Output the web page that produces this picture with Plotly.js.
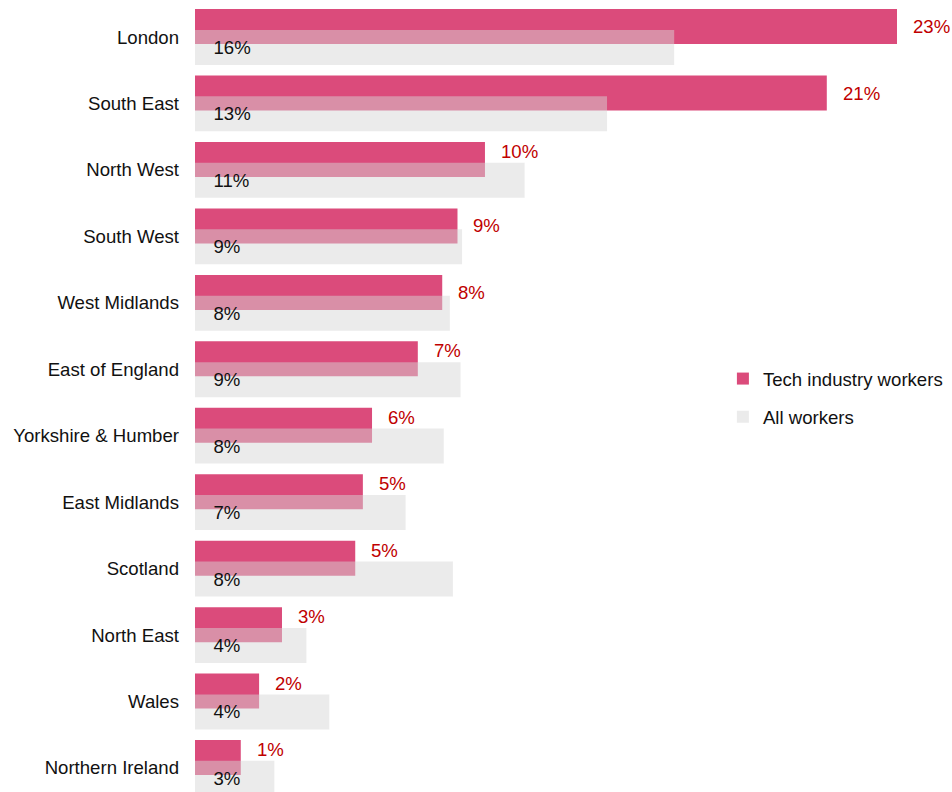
<!DOCTYPE html>
<html>
<head>
<meta charset="utf-8">
<script src="https://cdn.plot.ly/plotly-3.0.1.min.js"></script>
<style>
  html, body { margin: 0; padding: 0; background: #ffffff; }
  #chart { width: 952px; height: 792px; }
</style>
</head>
<body>
<div id="chart"></div>
<script>
// ---- Data ----
var regions = [
  "London", "South East", "North West", "South West", "West Midlands",
  "East of England", "Yorkshire & Humber", "East Midlands", "Scotland",
  "North East", "Wales", "Northern Ireland"
];
var techWorkers = [23.0, 20.7, 9.5, 8.6, 8.1, 7.3, 5.8, 5.5, 5.25, 2.85, 2.1, 1.5];
var allWorkers  = [15.7, 13.5, 10.8, 8.75, 8.35, 8.7, 8.15, 6.9, 8.45, 3.65, 4.4, 2.6];
var techLabels = ["23%", "21%", "10%", "9%", "8%", "7%", "6%", "5%", "5%", "3%", "2%", "1%"];
var allLabels  = ["16%", "13%", "11%", "9%", "8%", "9%", "8%", "7%", "8%", "4%", "4%", "3%"];
var seriesNames = ["Tech industry workers", "All workers"];

var PAD = "\u00a0\u00a0\u00a0";
var FONT = "Liberation Sans, Arial, sans-serif";
var FS = 18.6;
var XMAX = 23.0;
var PLOT_W = 702;           // plot-area width in px (952 - 195 - 55)
var BAR_W = 0.527, TECH_OFF = -0.42, ALL_OFF = -0.107;
var CAT_PX = 792 / (11.362 + 0.557);

var traceTech = {
  type: "bar",
  orientation: "h",
  name: seriesNames[0],
  legendgroup: "g1",
  y: regions,
  x: techWorkers,
  width: BAR_W,
  offset: TECH_OFF,
  marker: { color: "#db4b7b", line: { width: 0 } },
  hoverinfo: "skip"
};

var traceAll = {
  type: "bar",
  orientation: "h",
  name: seriesNames[1],
  legendgroup: "g2",
  y: regions,
  x: allWorkers,
  text: allLabels.map(function (t) { return PAD + t; }),
  textposition: "inside",
  insidetextanchor: "start",
  constraintext: "none",
  cliponaxis: false,
  insidetextfont: { family: FONT, size: FS, color: "#111111" },
  width: BAR_W,
  offset: ALL_OFF,
  marker: { color: "rgba(214,214,214,0.49)", line: { width: 0 } },
  hoverinfo: "skip"
};

// Tech value labels: right of the tech bar, lifted a little when the
// grey bar reaches past where the label starts.
var techCenterShift = -(TECH_OFF + BAR_W / 2) * CAT_PX;
var labelGapPx = 14;
var annotations = regions.map(function (r, i) {
  var pxPerUnit = PLOT_W / XMAX;
  var collides = (allWorkers[i] - techWorkers[i]) * pxPerUnit > labelGapPx;
  return {
    x: techWorkers[i], y: r, xref: "x", yref: "y",
    text: techLabels[i],
    showarrow: false,
    xanchor: "left", yanchor: "middle",
    xshift: labelGapPx,
    yshift: techCenterShift + (collides ? 8 : 0),
    font: { family: FONT, size: FS, color: "#c00000" }
  };
});

var layout = {
  width: 952,
  height: 792,
  margin: { l: 195, r: 55, t: 0, b: 0, pad: 0 },
  paper_bgcolor: "#ffffff",
  plot_bgcolor: "#ffffff",
  barmode: "overlay",
  font: { family: FONT, size: FS, color: "#111111" },
  showlegend: true,
  annotations: annotations,
  legend: {
    x: 0.752, xanchor: "left",
    y: 0.4975, yanchor: "middle",
    traceorder: "grouped",
    tracegroupgap: 11,
    bgcolor: "rgba(0,0,0,0)",
    borderwidth: 0,
    font: { family: FONT, size: FS, color: "#111111" }
  },
  xaxis: {
    range: [0, XMAX],
    showgrid: false, zeroline: false, showline: false,
    showticklabels: false, ticks: ""
  },
  yaxis: {
    type: "category",
    categoryorder: "array",
    categoryarray: regions,
    range: [11.362, -0.557],
    showgrid: false, zeroline: false, showline: false,
    ticks: "",
    ticklabelstandoff: 15,
    tickfont: { family: FONT, size: FS, color: "#111111" }
  }
};

Plotly.newPlot("chart", [traceTech, traceAll], layout, { displayModeBar: false, staticPlot: true });
</script>
</body>
</html>
